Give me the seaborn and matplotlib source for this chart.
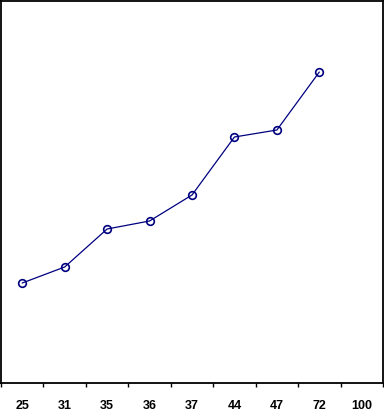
import matplotlib
matplotlib.use("Agg")
import matplotlib.pyplot as plt
import seaborn as sns
import pandas as pd
import numpy as np

categories = ["25", "31", "35", "36", "37", "44", "47", "72", "100"]
point_categories = ["25", "31", "35", "36", "37", "44", "47", "72"]
values = [100, 116, 154, 162, 188, 246, 253, 311]

sns.set_style("white")
plt.rcParams["font.family"] = ["Liberation Sans", "DejaVu Sans"]

df = pd.DataFrame({"cat": point_categories, "val": values})

fig = plt.figure(figsize=(3.84, 4.12), dpi=100)
ax = fig.add_axes([1/384, 29/412, 382/384, 382/412])

sns.pointplot(data=df, x="cat", y="val", order=categories, color="#000080",
              markers="o", markersize=5.5, linewidth=0.9,
              markerfacecolor="none", markeredgewidth=1.2, ax=ax)

ax.set_ylim(0, 382)
ax.set_xlim(-0.5, len(categories) - 0.5)
ax.set_xlabel("")
ax.set_ylabel("")
ax.set_yticks([])
ax.set_xticks(range(len(categories)))
ax.set_xticklabels(categories, fontsize=9, fontweight="bold", color="black")
ax.set_xticks(np.arange(-0.5, len(categories)), minor=True)
ax.tick_params(axis="x", which="major", length=0, pad=12)
ax.tick_params(axis="x", which="minor", length=3, width=1, color="black", direction="out", bottom=True)
for s in ax.spines.values():
    s.set_color("black")
    s.set_linewidth(1.3)
    s.set_visible(True)

fig.savefig("out.png", dpi=100)
